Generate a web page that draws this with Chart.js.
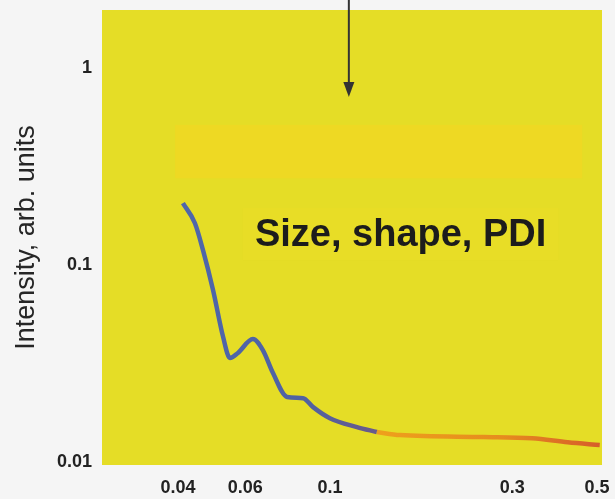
<!DOCTYPE html>
<html>
<head>
<meta charset="utf-8">
<script src="https://cdn.jsdelivr.net/npm/chart.js@4"></script>
<style>
  html, body { margin: 0; padding: 0; background: #f5f5f5; }
  #wrap { width: 615px; height: 499px; }
</style>
</head>
<body>
<div id="wrap"><canvas id="saxsChart"></canvas></div>
<script>
// scattering vector q (log axis) and intensity values
const qLow = [0.0412, 0.0443, 0.0465, 0.0494, 0.0525, 0.0547, 0.0574, 0.0628, 0.0667, 0.0709, 0.0772, 0.085, 0.0903, 0.0999, 0.1176, 0.1325];
const intensityLow = [0.206, 0.163, 0.119, 0.0747, 0.0431, 0.0337, 0.0358, 0.0421, 0.037, 0.0283, 0.0214, 0.0211, 0.019, 0.0167, 0.01505, 0.0142];
const qHigh = [0.1325, 0.1525, 0.252, 0.338, 0.419, 0.508];
const intensityHigh = [0.0142, 0.0137, 0.0134, 0.0132, 0.0126, 0.0122];

const xTicks = [0.04, 0.06, 0.1, 0.3, 0.5];
const yTicks = [0.01, 0.1, 1];

const label = "Size, shape, PDI";
const tickFont = { family: '"Liberation Sans", Arial, sans-serif', size: 18, weight: 'bold' };

function toPoints(xs, ys) {
  return xs.map((x, i) => ({ x: x, y: ys[i] }));
}

// horizontal gradient over the chart area for a line
function lineGradient(chart, stops) {
  const area = chart.chartArea;
  if (!area) return stops[0][1];
  const g = chart.ctx.createLinearGradient(area.left, 0, area.right, 0);
  stops.forEach(s => g.addColorStop(s[0], s[1]));
  return g;
}

// yellow panel, highlighted band, arrow and label
const decorations = {
  id: 'decorations',
  beforeDatasetsDraw(chart) {
    const { ctx, chartArea, scales } = chart;
    const x = scales.x, y = scales.y;
    ctx.save();
    ctx.fillStyle = '#e5dd26';
    ctx.fillRect(chartArea.left, chartArea.top, chartArea.width, chartArea.height);

    // band
    const bx0 = x.getPixelForValue(0.0393), bx1 = x.getPixelForValue(0.457);
    const by0 = y.getPixelForValue(0.514), by1 = y.getPixelForValue(0.276);
    ctx.fillStyle = '#eed923';
    ctx.fillRect(bx0, by0, bx1 - bx0, by1 - by0);

    // label with a soft highlight behind it
    const tx = x.getPixelForValue(0.153), ty = y.getPixelForValue(0.1437);
    ctx.font = 'bold 38px "Liberation Sans", Arial, sans-serif';
    const w = ctx.measureText(label).width;
    ctx.fillStyle = 'rgba(238,222,40,0.35)';
    ctx.fillRect(tx - w / 2 - 12, ty - 26, w + 24, 52);
    ctx.fillStyle = '#1c1c1c';
    ctx.textAlign = 'center';
    ctx.textBaseline = 'middle';
    ctx.fillText(label, tx, ty + 2);

    // arrow
    const ax = x.getPixelForValue(0.112);
    const tip = y.getPixelForValue(0.713);
    ctx.strokeStyle = '#333';
    ctx.lineWidth = 2;
    ctx.beginPath();
    ctx.moveTo(ax, 0);
    ctx.lineTo(ax, tip - 12);
    ctx.stroke();
    ctx.fillStyle = '#333';
    ctx.beginPath();
    ctx.moveTo(ax - 5.5, tip - 15);
    ctx.lineTo(ax + 5.5, tip - 15);
    ctx.lineTo(ax, tip);
    ctx.closePath();
    ctx.fill();
    ctx.restore();
  }
};

const ctx = document.getElementById('saxsChart');

new Chart(ctx, {
  type: 'line',
  data: {
    datasets: [
      {
        label: 'low q',
        data: toPoints(qLow, intensityLow),
        borderColor: (c) => lineGradient(c.chart, [[0, '#4d6ab0'], [0.4, '#5062a2'], [0.55, '#6a5a8a']]),
        borderWidth: 4.5,
        pointRadius: 0,
        cubicInterpolationMode: 'monotone'
      },
      {
        label: 'high q',
        data: toPoints(qHigh, intensityHigh),
        borderColor: (c) => lineGradient(c.chart, [[0.55, '#eea01c'], [0.8, '#e68c1e'], [1, '#d65c2a']]),
        borderWidth: 4.5,
        pointRadius: 0,
        cubicInterpolationMode: 'monotone'
      }
    ]
  },
  options: {
    responsive: true,
    maintainAspectRatio: false,
    animation: false,
    layout: { padding: { top: 10, right: 13, left: 0, bottom: 0 } },
    plugins: {
      legend: { display: false },
      tooltip: { enabled: false }
    },
    scales: {
      x: {
        type: 'logarithmic',
        min: 0.0253,
        max: 0.515,
        grid: { display: false, drawTicks: false },
        border: { display: false },
        afterBuildTicks: (scale) => { scale.ticks = xTicks.map(v => ({ value: v })); },
        afterFit: (scale) => {
          scale.height = 34;
          scale.paddingLeft = 0;
          scale.paddingRight = 0;
        },
        ticks: {
          padding: 12,
          color: '#222',
          font: tickFont,
          callback: (v) => String(v),
          maxRotation: 0,
          autoSkip: false
        }
      },
      y: {
        type: 'logarithmic',
        min: 0.00966,
        max: 1.97,
        grid: { display: false, drawTicks: false },
        border: { display: false },
        afterBuildTicks: (scale) => { scale.ticks = yTicks.map(v => ({ value: v })); },
        afterFit: (scale) => {
          scale.width = 102;
          scale.paddingTop = 0;
          scale.paddingBottom = 0;
        },
        title: {
          display: true,
          text: 'Intensity, arb. units',
          color: '#262626',
          font: { family: '"Liberation Sans", Arial, sans-serif', size: 27 },
          padding: { top: 10, bottom: 0 }
        },
        ticks: {
          padding: 10,
          color: '#222',
          font: tickFont,
          callback: (v) => String(v),
          autoSkip: false
        }
      }
    }
  },
  plugins: [decorations]
});
</script>
</body>
</html>
